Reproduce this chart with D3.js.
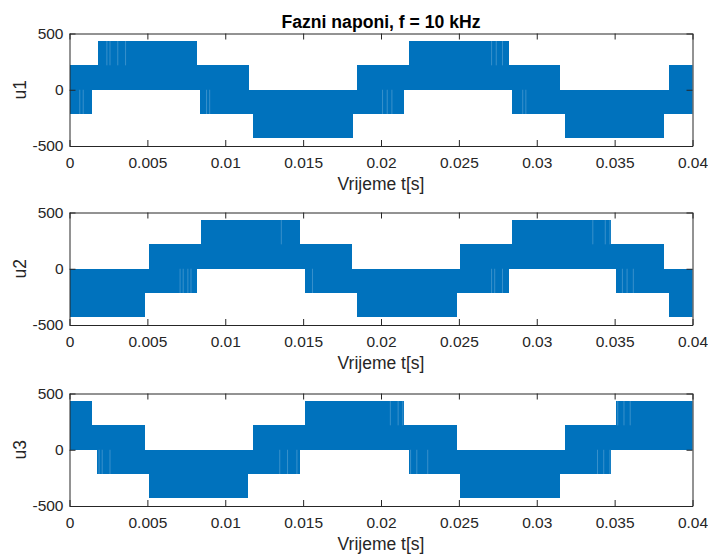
<!DOCTYPE html>
<html><head><meta charset="utf-8">
<script src="https://cdn.jsdelivr.net/npm/d3@7"></script>
<style>
body{margin:0;background:#fff}
svg{display:block}
text{font-family:"Liberation Sans",Arial,Helvetica,sans-serif}
</style></head>
<body><svg id="c" width="708" height="556"></svg>
<script>
// ---- data ----
const titleText = "Fazni naponi, f = 10 kHz";
const xLabelText = "Vrijeme t[s]";
const yLabels = ["u1", "u2", "u3"];
const xTicks = [0, 0.005, 0.01, 0.015, 0.02, 0.025, 0.03, 0.035, 0.04];
const xTickLabels = ["0", "0.005", "0.01", "0.015", "0.02", "0.025", "0.03", "0.035", "0.04"];
const yTicks = [-500, 0, 500];
const yTickLabels = ["-500", "0", "500"];

// PWM envelope bands: [t start, t end, lowest level, highest level]
const u1Bands = [
  [0, 0.00145, -217, 217], [0.00145, 0.00182, 0, 217], [0.00182, 0.00821, 0, 433],
  [0.00821, 0.00840, 0, 217], [0.00840, 0.01151, -217, 217], [0.01151, 0.01180, -217, 0],
  [0.01180, 0.01818, -433, 0], [0.01818, 0.01845, -217, 0], [0.01845, 0.02150, -217, 217],
  [0.02150, 0.02180, 0, 217], [0.02180, 0.02821, 0, 433], [0.02821, 0.02843, 0, 217],
  [0.02843, 0.03151, -217, 217], [0.03151, 0.03182, -217, 0], [0.03182, 0.03818, -433, 0],
  [0.03818, 0.03847, -217, 0], [0.03847, 0.04, -217, 217]
];
const u2Bands = [
  [0, 0.00487, -433, 0], [0.00487, 0.00508, -217, 0], [0.00508, 0.00821, -217, 217],
  [0.00821, 0.00842, 0, 217], [0.00842, 0.01477, 0, 433], [0.01477, 0.01511, 0, 217],
  [0.01511, 0.01817, -217, 217], [0.01817, 0.01846, -217, 0], [0.01846, 0.02487, -433, 0],
  [0.02487, 0.02508, -217, 0], [0.02508, 0.02819, -217, 217], [0.02819, 0.02844, 0, 217],
  [0.02844, 0.03479, 0, 433], [0.03479, 0.03511, 0, 217], [0.03511, 0.03820, -217, 217],
  [0.03820, 0.03848, -217, 0], [0.03848, 0.04, -433, 0]
];
const u3Bands = [
  [0, 0.00143, 0, 433], [0.00143, 0.00178, 0, 217], [0.00178, 0.00487, -217, 217],
  [0.00487, 0.00508, -217, 0], [0.00508, 0.01149, -433, 0], [0.01149, 0.01179, -217, 0],
  [0.01179, 0.01477, -217, 217], [0.01477, 0.01511, 0, 217], [0.01511, 0.02150, 0, 433],
  [0.02150, 0.02180, 0, 217], [0.02180, 0.02487, -217, 217], [0.02487, 0.02508, -217, 0],
  [0.02508, 0.03151, -433, 0], [0.03151, 0.03183, -217, 0], [0.03183, 0.03479, -217, 217],
  [0.03479, 0.03511, 0, 217], [0.03511, 0.04, 0, 433]
];
// light streaks (missing pulses): [t, low, high]
const u1Streaks = [
  [0.00066, -217, 0], [0.00088, -217, 0],
  [0.0024, 217, 433], [0.0026, 217, 433], [0.0031, 217, 433], [0.0036, 217, 433],
  [0.0088, -217, 0], [0.0090, -217, 0],
  [0.0201, -217, 0], [0.0204, -217, 0], [0.0207, -217, 0],
  [0.0271, 217, 433], [0.0274, 217, 433], [0.0278, 217, 433],
  [0.0291, -217, 0], [0.0293, -217, 0]
];
const u2Streaks = [
  [0.0071, -217, 0], [0.0073, -217, 0], [0.0076, -217, 0], [0.0078, -217, 0],
  [0.0136, 217, 433], [0.0156, -217, 0],
  [0.0271, -217, 0], [0.0273, -217, 0], [0.0278, -217, 0],
  [0.0336, 217, 433], [0.0344, 217, 433], [0.0347, 217, 433],
  [0.0355, -217, 0], [0.0358, -217, 0], [0.0362, -217, 0]
];
const u3Streaks = [
  [0.0019, -217, 0], [0.0021, -217, 0], [0.0026, -217, 0],
  [0.0135, -217, 0], [0.0140, -217, 0], [0.0146, -217, 0],
  [0.0206, 217, 433], [0.0211, 217, 433], [0.0214, 217, 433],
  [0.0219, -217, 0], [0.0223, -217, 0], [0.0230, -217, 0],
  [0.0339, -217, 0], [0.0343, -217, 0], [0.0347, -217, 0],
  [0.0352, 217, 433], [0.0356, 217, 433], [0.0360, 217, 433]
];

// ---- drawing ----
const W = 708, H = 556;
const lineColor = "#0072BD", axisColor = "#262626";
const left = 69.5, right = 692.5, axH = 112.5;
const tops = [33.5, 212.5, 393.5];
const bandsList = [u1Bands, u2Bands, u3Bands];
const streakList = [u1Streaks, u2Streaks, u3Streaks];

const svg = d3.select("#c");
svg.append("rect").attr("width", W).attr("height", H).attr("fill", "#fff");
const x = d3.scaleLinear().domain([0, 0.04]).range([left, right]);

bandsList.forEach((bands, i) => {
  const top = tops[i], bottom = top + axH;
  const y = d3.scaleLinear().domain([-500, 500]).range([bottom, top]);
  const g = svg.append("g");
  const cid = "clip" + i;
  svg.append("clipPath").attr("id", cid).append("rect")
    .attr("x", left).attr("y", top).attr("width", right - left).attr("height", axH);
  const plot = g.append("g").attr("clip-path", `url(#${cid})`);
  plot.selectAll("rect.band").data(bands).join("rect").attr("class", "band")
    .attr("x", d => x(d[0])).attr("width", d => x(d[1]) - x(d[0]))
    .attr("y", d => y(d[3])).attr("height", d => y(d[2]) - y(d[3]))
    .attr("fill", lineColor).attr("shape-rendering", "crispEdges");
  plot.selectAll("line.streak").data(streakList[i]).join("line").attr("class", "streak")
    .attr("x1", d => x(d[0])).attr("x2", d => x(d[0]))
    .attr("y1", d => y(d[2])).attr("y2", d => y(d[1]))
    .attr("stroke", "#fff").attr("stroke-opacity", 0.22).attr("stroke-width", 1);

  // axes
  const ax = [
    g.append("g").attr("transform", `translate(0,${bottom})`)
      .call(d3.axisBottom(x).tickValues(xTicks).tickFormat((d, k) => xTickLabels[k])
        .tickSizeInner(-6).tickSizeOuter(0).tickPadding(11)),
    g.append("g").attr("transform", `translate(0,${top})`)
      .call(d3.axisTop(x).tickValues(xTicks).tickFormat("").tickSizeInner(-6).tickSizeOuter(0)),
    g.append("g").attr("transform", `translate(${left},0)`)
      .call(d3.axisLeft(y).tickValues(yTicks).tickFormat((d, k) => yTickLabels[k])
        .tickSizeInner(-6).tickSizeOuter(0).tickPadding(6)),
    g.append("g").attr("transform", `translate(${right},0)`)
      .call(d3.axisRight(y).tickValues(yTicks).tickFormat("").tickSizeInner(-6).tickSizeOuter(0))
  ];
  ax.forEach(a => {
    a.select(".domain").attr("stroke", axisColor).attr("stroke-width", 1);
    a.selectAll(".tick line").attr("stroke", axisColor).attr("stroke-width", 1);
    a.selectAll(".tick text").attr("fill", axisColor)
      .style("font-size", "15.5px").style("font-family", '"Liberation Sans",Arial,sans-serif');
  });

  g.append("text").attr("x", (left + right) / 2).attr("y", bottom + 43.7)
    .attr("text-anchor", "middle").attr("fill", axisColor)
    .style("font-size", "17.5px").text(xLabelText);
  g.append("text").attr("transform", `translate(25.5,${(top + bottom) / 2}) rotate(-90)`)
    .attr("text-anchor", "middle").attr("fill", axisColor)
    .style("font-size", "17.5px").text(yLabels[i]);
  if (i === 0) {
    g.append("text").attr("x", (left + right) / 2).attr("y", top - 5.8)
      .attr("text-anchor", "middle").attr("fill", "#000")
      .style("font-size", "17.6px").style("font-weight", "bold").text(titleText);
  }
});
</script></body></html>
